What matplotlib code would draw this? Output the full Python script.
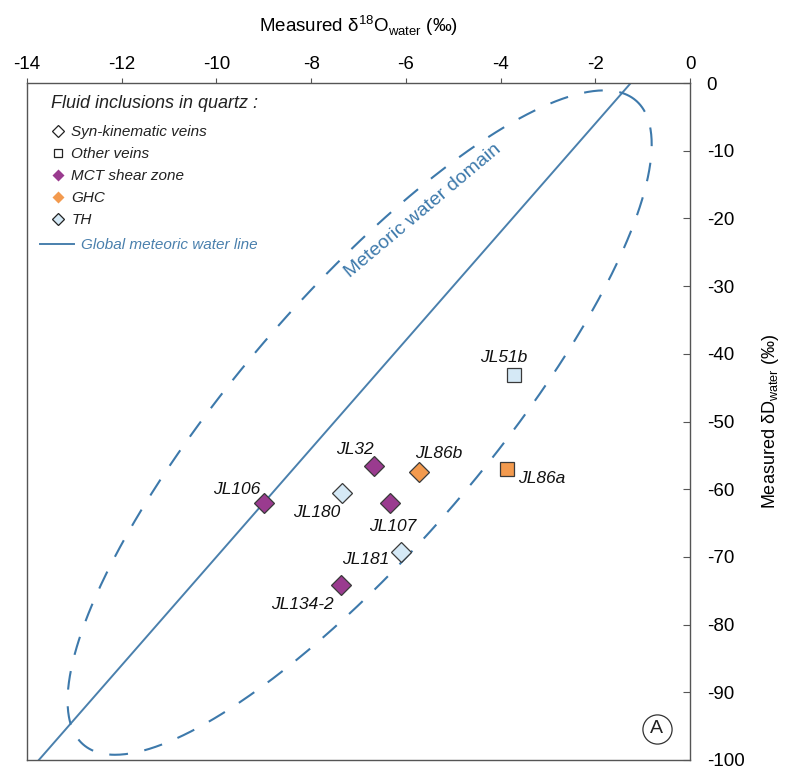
import numpy as np
import matplotlib
matplotlib.use("Agg")
import matplotlib.pyplot as plt
from matplotlib.lines import Line2D

plt.rcParams['font.family'] = ['Liberation Sans', 'DejaVu Sans']
plt.rcParams['axes.unicode_minus'] = False

# ---------------- data ----------------
samples = ['JL51b', 'JL86a', 'JL86b', 'JL32', 'JL180', 'JL106', 'JL107', 'JL181', 'JL134-2']
d18O = [-3.72, -3.87, -5.72, -6.67, -7.34, -9.00, -6.33, -6.10, -7.38]
dD = [-43.2, -57.0, -57.5, -56.5, -60.5, -62.1, -62.1, -69.3, -74.1]
unit = ['TH', 'GHC', 'GHC', 'MCT', 'TH', 'MCT', 'MCT', 'TH', 'MCT']
vein = ['other', 'other', 'syn', 'syn', 'syn', 'syn', 'syn', 'syn', 'syn']

x_ticks = [-14, -12, -10, -8, -6, -4, -2, 0]
y_ticks = [0, -10, -20, -30, -40, -50, -60, -70, -80, -90, -100]

# Global meteoric water line: dD = 8 * d18O + 10
gmwl_slope = 8
gmwl_intercept = 10

# meteoric water domain ellipse: centre and two conjugate half-axes (data units)
ell_center = (-6.976, -50.16)
ell_major = (5.833, 47.575)
ell_minor = (-2.002, 12.012)

# ---------------- styles ----------------
unit_color = {'MCT': '#9a3b8f', 'GHC': '#f39a4e', 'TH': '#d5e9f6'}
vein_marker = {'syn': 'D', 'other': 's'}
blue = '#3d79ab'
line_blue = '#4a80ad'
label_offsets = {  # points
    'JL51b': (-7.6, 13.1), 'JL32': (-13.6, 11.8), 'JL86b': (14.2, 13.7),
    'JL86a': (24.9, -6.9), 'JL106': (-19.2, 10.3), 'JL180': (-18.2, -14.3),
    'JL107': (1.8, -16.3), 'JL181': (-25.8, -5.0), 'JL134-2': (-27.3, -14.0),
}

fig = plt.figure(figsize=(7.85, 7.69), dpi=100)
ax = fig.add_axes([27 / 785, 1 - 760 / 769, 663 / 785, 677 / 769])
ax.set_xlim(-14, 0)
ax.set_ylim(-100, 0)

# GMWL
ax.axline((0, gmwl_intercept), slope=gmwl_slope, color=line_blue, lw=1.4, zorder=2)

# meteoric water domain
t = np.linspace(0, 2 * np.pi, 600)
ex = ell_center[0] + ell_major[0] * np.cos(t) + ell_minor[0] * np.sin(t)
ey = ell_center[1] + ell_major[1] * np.cos(t) + ell_minor[1] * np.sin(t)
el, = ax.plot(ex, ey, color=blue, lw=1.5, zorder=2)
el.set_dashes((9, 8))

ax.text(-5.64, -18.9, 'Meteoric water domain', color=blue, fontsize=14,
        rotation=40, ha='center', va='center', rotation_mode='anchor')

# samples
for s, x, y, u, v in zip(samples, d18O, dD, unit, vein):
    ax.plot(x, y, marker=vein_marker[v], ls='', ms=10 if v == 'syn' else 10.5,
            mfc=unit_color[u], mec='#3a3a3a', mew=0.9, zorder=4)
    ax.annotate(s, (x, y), xytext=label_offsets[s], textcoords='offset points',
                ha='center', va='center', fontsize=12.5, style='italic', color='#111111')

# legend
ax.text(0.0362, 0.969, 'Fluid inclusions in quartz :', transform=ax.transAxes,
        ha='left', va='center', fontsize=13, style='italic', color='#222222')
handles = [
    Line2D([], [], marker='D', ls='', ms=6, mfc='white', mec='#222222', mew=0.9),
    Line2D([], [], marker='s', ls='', ms=6, mfc='white', mec='#222222', mew=0.9),
    Line2D([], [], marker='D', ls='', ms=6.5, mfc=unit_color['MCT'], mec='none'),
    Line2D([], [], marker='D', ls='', ms=6.5, mfc=unit_color['GHC'], mec='none'),
    Line2D([], [], marker='D', ls='', ms=6, mfc=unit_color['TH'], mec='#222222', mew=0.9),
]
labels = ['Syn-kinematic veins', 'Other veins', 'MCT shear zone', 'GHC', 'TH']
leg1 = ax.legend(handles, labels, loc='upper left', bbox_to_anchor=(0.038, 0.938),
                 frameon=False, prop={'style': 'italic', 'size': 11},
                 handlelength=0.75, handletextpad=0.5, labelspacing=0.53,
                 borderpad=0, borderaxespad=0)
for txt in leg1.get_texts():
    txt.set_color('#222222')
ax.add_artist(leg1)

leg2 = ax.legend([Line2D([], [], color=line_blue, lw=1.4)], ['Global meteoric water line'],
                 loc='center left', bbox_to_anchor=(0.020, 0.7607), frameon=False,
                 prop={'style': 'italic', 'size': 11}, handlelength=2.2,
                 handletextpad=0.45, borderpad=0, borderaxespad=0)
leg2.get_texts()[0].set_color(line_blue)

# circled panel letter
ax.plot(0.950, 0.046, marker='o', ms=21, mfc='none', mec='#333333', mew=0.9,
        transform=ax.transAxes, clip_on=False)
ax.text(0.950, 0.046, 'A', transform=ax.transAxes, ha='center', va='center',
        fontsize=14, color='#222222')

# axes styling
for sp in ax.spines.values():
    sp.set_color('#555555')
    sp.set_linewidth(1.0)
ax.xaxis.tick_top()
ax.xaxis.set_label_position('top')
ax.yaxis.tick_right()
ax.yaxis.set_label_position('right')
ax.set_xticks(x_ticks)
ax.set_yticks(y_ticks)
ax.tick_params(axis='x', direction='out', length=3.5, width=0.8, color='#555555',
               labelsize=13.5, pad=4)
ax.tick_params(axis='y', direction='in', length=5, width=0.8, color='#555555',
               labelsize=13.5, pad=12)
ax.set_xlabel(r'Measured δ$^{\mathregular{18}}$O$_{\mathregular{water}}$ (‰)', fontsize=13.5, labelpad=17)
ax.set_ylabel(r'Measured δD$_{\mathregular{water}}$ (‰)', fontsize=13, labelpad=11,
              rotation=90)

fig.savefig('out.png', dpi=100)
